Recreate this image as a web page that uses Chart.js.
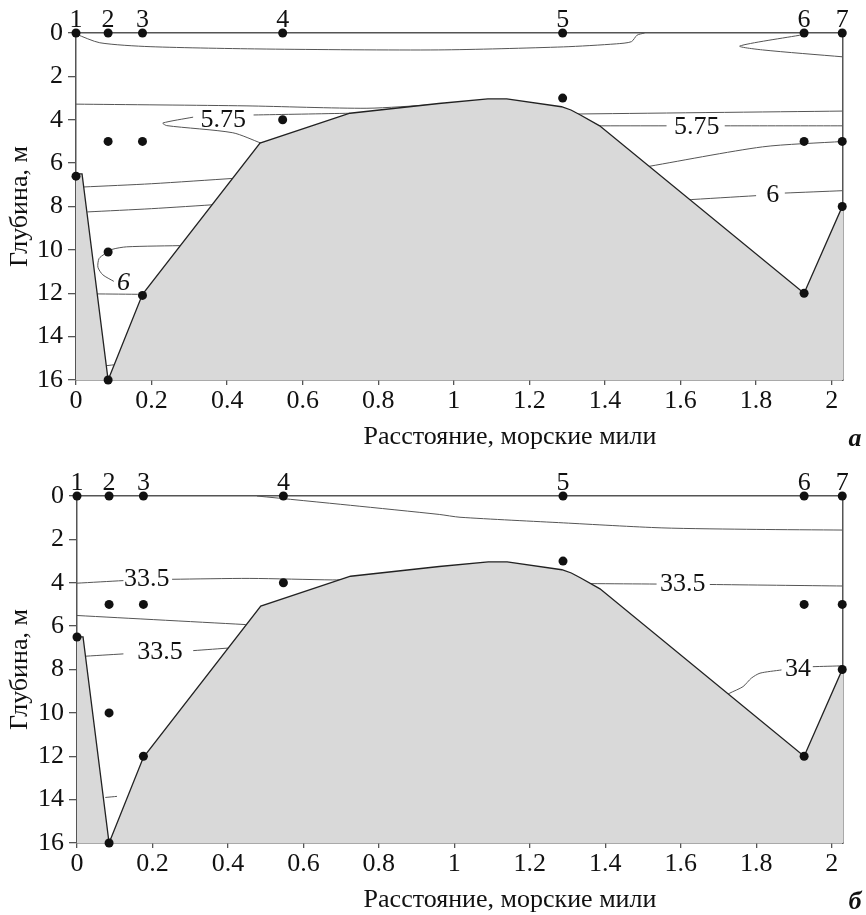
<!DOCTYPE html>
<html lang="ru">
<head>
<meta charset="utf-8">
<title>Разрез: температура и солёность</title>
<script src="https://cdn.jsdelivr.net/npm/chart.js@4.4.1/dist/chart.umd.min.js"></script>
<style>
  body { margin: 0; background: #fff; }
  .panel { position: relative; width: 866px; }
</style>
</head>
<body>
<div class="panel" style="height:457px"><canvas id="tempChart"></canvas></div>
<div class="panel" style="height:458px"><canvas id="salChart"></canvas></div>
<script>
// станции разреза
const stationNames = ["1", "2", "3", "4", "5", "6", "7"];
const stationDist = [0, 0.085, 0.176, 0.547, 1.288, 1.927, 2.028];
// горизонты отбора проб на каждой станции, м
const tempSampleDepths = [[0, 6.6], [0, 5, 10.1, 16], [0, 5, 12.1], [0, 4], [0, 3], [0, 5, 12], [0, 5, 8]];
const salSampleDepths = [[0, 6.5], [0, 5, 10, 16], [0, 5, 12], [0, 4], [0, 3], [0, 5, 12], [0, 5, 8]];

// рельеф дна
const bottomDist = [0, 0.016, 0.085, 0.176, 0.487, 0.725, 0.96, 1.09, 1.14, 1.285, 1.31, 1.335, 1.386, 1.927, 2.03];
const bottomDepth = [6.5, 6.5, 16, 12.05, 5.08, 3.7, 3.25, 3.04, 3.04, 3.4, 3.55, 3.78, 4.28, 12, 7.92];

// деления осей
const distTicks = [0, 0.2, 0.4, 0.6, 0.8, 1, 1.2, 1.4, 1.6, 1.8, 2];
const depthTicks = [0, 2, 4, 6, 8, 10, 12, 14, 16];

// изотермы: [расстояние, глубина]
const tempSurface = [[0, 0.05], [0.063, 0.45], [0.196, 0.63], [0.505, 0.74], [0.96, 0.78], [1.29, 0.64], [1.43, 0.5], [1.47, 0.4], [1.485, 0.1], [1.505, 0]];
const tempNear6 = [[1.923, 0.08], [1.757, 0.6], [1.817, 0.78], [2.03, 1.1]];
const tempUpLeft = [[0, 3.28], [0.45, 3.36], [0.77, 3.47], [0.95, 3.3]];
const tempUpRight = [[1.3, 3.74], [2.03, 3.6]];
const temp575LeftA = [[0.725, 3.7], [0.47, 3.78]];
const temp575LeftB = [[0.31, 3.88], [0.23, 4.15], [0.24, 4.27], [0.415, 4.6], [0.49, 5.08]];
const temp575RightA = [[1.37, 4.28], [1.563, 4.28]];
const temp575RightB = [[1.717, 4.28], [2.03, 4.28]];
const tempMid5 = [[1.5, 6.2], [1.817, 5.25], [2.03, 5.0]];
const temp6RightA = [[1.61, 7.7], [1.8, 7.5]];
const temp6RightB = [[1.876, 7.38], [2.03, 7.27]];
const tempLeft7 = [[0.02, 7.1], [0.2, 6.95], [0.42, 6.7]];
const tempLeft8 = [[0.03, 8.25], [0.2, 8.1], [0.38, 7.9]];
const temp6Left = [[0.29, 9.8], [0.134, 9.86], [0.095, 9.98], [0.075, 10.2], [0.061, 10.4], [0.058, 10.8], [0.071, 11.15], [0.1, 11.45]];
const tempLeft12 = [[0.05, 12.03], [0.176, 12.05]];
const tempDeep = [[0.075, 15.35], [0.1, 15.3]];
const tempLines = [tempSurface, tempNear6, tempUpLeft, tempUpRight, temp575LeftA, temp575LeftB,
  temp575RightA, temp575RightB, tempMid5, temp6RightA, temp6RightB, tempLeft7, tempLeft8,
  temp6Left, tempLeft12, tempDeep];
const tempLabels = ["5.75", "5.75", "6", "6"];
const tempLabelDist = [0.39, 1.643, 1.844, 0.126];
const tempLabelDepth = [4.0, 4.33, 7.47, 11.55];

// изохалины
const salSurface = [[0.477, 0], [0.725, 0.43], [0.96, 0.85], [1.015, 0.98], [1.29, 1.24], [1.55, 1.47], [1.8, 1.54], [2.03, 1.57]];
const sal335UpLeftA = [[0, 4.02], [0.123, 3.9]];
const sal335UpLeftB = [[0.252, 3.84], [0.458, 3.8], [0.678, 3.87], [0.72, 3.85]];
const sal335UpRightA = [[1.36, 4.04], [1.536, 4.06]];
const sal335UpRightB = [[1.677, 4.08], [2.03, 4.15]];
const salMid = [[0, 5.51], [0.47, 5.95]];
const sal335LowA = [[0.01, 7.4], [0.123, 7.28]];
const sal335LowB = [[0.308, 7.13], [0.41, 7.0]];
const sal34A = [[1.71, 9.3], [1.73, 9.09], [1.765, 8.79], [1.787, 8.4], [1.81, 8.17], [1.867, 8.02]];
const sal34B = [[1.95, 7.87], [2.03, 7.83]];
const salDeep = [[0.075, 13.9], [0.106, 13.85]];
const salLines = [salSurface, sal335UpLeftA, sal335UpLeftB, sal335UpRightA, sal335UpRightB,
  salMid, sal335LowA, sal335LowB, sal34A, sal34B, salDeep];
const salLabels = ["33.5", "33.5", "33.5", "34"];
const salLabelDist = [0.185, 1.605, 0.22, 1.911];
const salLabelDepth = [3.82, 4.06, 7.21, 7.98];

Chart.defaults.font.family = '"Liberation Serif", "Times New Roman", serif';
Chart.defaults.color = "#111";

const serif = '"Liberation Serif", "Times New Roman", serif';
const axisColor = "#555";

// подписи изолиний, подпись оси X и буква панели
const isoLabels = {
  id: "isoLabels",
  afterDatasetsDraw(chart, args, opts) {
    const { ctx, chartArea } = chart;
    const x = chart.scales.x, y = chart.scales.y;
    ctx.save();
    ctx.fillStyle = "#111";
    ctx.textAlign = "center";
    ctx.textBaseline = "middle";
    opts.texts.forEach((t, i) => {
      ctx.font = (opts.italic.includes(i) ? "italic " : "") + "26px " + serif;
      ctx.fillText(t, x.getPixelForValue(opts.dist[i]), y.getPixelForValue(opts.depth[i]));
    });
    ctx.font = "26px " + serif;
    ctx.fillText("Расстояние, морские мили", 510, chartArea.bottom + 57);
    ctx.font = "italic bold 26px " + serif;
    ctx.fillText(opts.letter, 855, chartArea.bottom + 59);
    ctx.restore();
  }
};

function makePanel(id, lines, samples, texts, dist, depth, italic, letter, frame) {
  const datasets = [];

  // точки отбора проб
  const pts = [];
  samples.forEach((depths, i) => depths.forEach(d => pts.push({ x: stationDist[i], y: d })));
  datasets.push({
    data: pts, showLine: false, pointRadius: 4.5, pointBackgroundColor: "#111",
    pointBorderWidth: 0, clip: false, order: 0, xAxisID: "x", yAxisID: "y"
  });

  // дно
  datasets.push({
    data: bottomDist.map((d, i) => ({ x: d, y: bottomDepth[i] })),
    borderColor: "#222", borderWidth: 1.3, backgroundColor: "#d9d9d9",
    fill: { value: 16 }, pointRadius: 0, tension: 0, order: 1, xAxisID: "x", yAxisID: "y"
  });

  // изолинии
  lines.forEach(line => datasets.push({
    data: line.map(p => ({ x: p[0], y: p[1] })),
    borderColor: "#555", borderWidth: 1, pointRadius: 0, fill: false,
    tension: 0.25, order: 2, xAxisID: "x", yAxisID: "y"
  }));

  return new Chart(document.getElementById(id), {
    type: "line",
    data: { datasets },
    plugins: [isoLabels],
    options: {
      responsive: true,
      maintainAspectRatio: false,
      animation: false,
      events: [],
      layout: { padding: 0 },
      plugins: {
        legend: { display: false },
        tooltip: { enabled: false },
        isoLabels: { texts, dist, depth, italic, letter }
      },
      scales: {
        x: {
          type: "linear", position: "bottom", min: 0, max: 2.03,
          afterBuildTicks: s => { s.ticks = distTicks.map(v => ({ value: v })); },
          afterFit: s => { s.height = frame.bottom; },
          ticks: {
            font: { size: 26, lineHeight: 1 }, padding: 3, color: "#111",
            maxRotation: 0, autoSkip: false,
            callback: v => String(Math.round(v * 10) / 10)
          },
          grid: { display: true, drawOnChartArea: false, drawTicks: true, tickLength: 5, color: axisColor, lineWidth: 1.3 },
          border: { display: true, color: axisColor, width: 1.5 }
        },
        xTop: {
          type: "linear", position: "top", min: 0, max: 2.03,
          afterBuildTicks: s => { s.ticks = stationDist.map(v => ({ value: v })); },
          afterFit: s => { s.height = frame.top; },
          ticks: {
            font: { size: 26, lineHeight: 1 }, padding: 0, color: "#111",
            maxRotation: 0, autoSkip: false,
            callback: (v, i) => stationNames[i]
          },
          grid: { display: false, drawTicks: false },
          border: { display: true, color: axisColor, width: 1.5 }
        },
        y: {
          type: "linear", position: "left", reverse: true, min: 0, max: 16,
          afterBuildTicks: s => { s.ticks = depthTicks.map(v => ({ value: v })); },
          afterFit: s => { s.width = frame.left; },
          title: { display: true, text: "Глубина, м", font: { size: 26 }, color: "#111", padding: { top: 5, bottom: 0 } },
          ticks: { font: { size: 26 }, padding: 5, color: "#111" },
          grid: { display: true, drawOnChartArea: false, drawTicks: true, tickLength: 8, color: axisColor, lineWidth: 1.3 },
          border: { display: true, color: axisColor, width: 1.5 }
        },
        yRight: {
          type: "linear", position: "right", reverse: true, min: 0, max: 16,
          afterFit: s => { s.width = frame.right; },
          ticks: { display: false },
          grid: { display: false, drawTicks: false },
          border: { display: true, color: axisColor, width: 1.5 }
        }
      }
    }
  });
}

makePanel("tempChart", tempLines, tempSampleDepths, tempLabels, tempLabelDist, tempLabelDepth,
  [3], "а", { left: 76, right: 23, top: 33, bottom: 77 });
makePanel("salChart", salLines, salSampleDepths, salLabels, salLabelDist, salLabelDepth,
  [], "б", { left: 77, right: 23, top: 39, bottom: 72 });
</script>
</body>
</html>
